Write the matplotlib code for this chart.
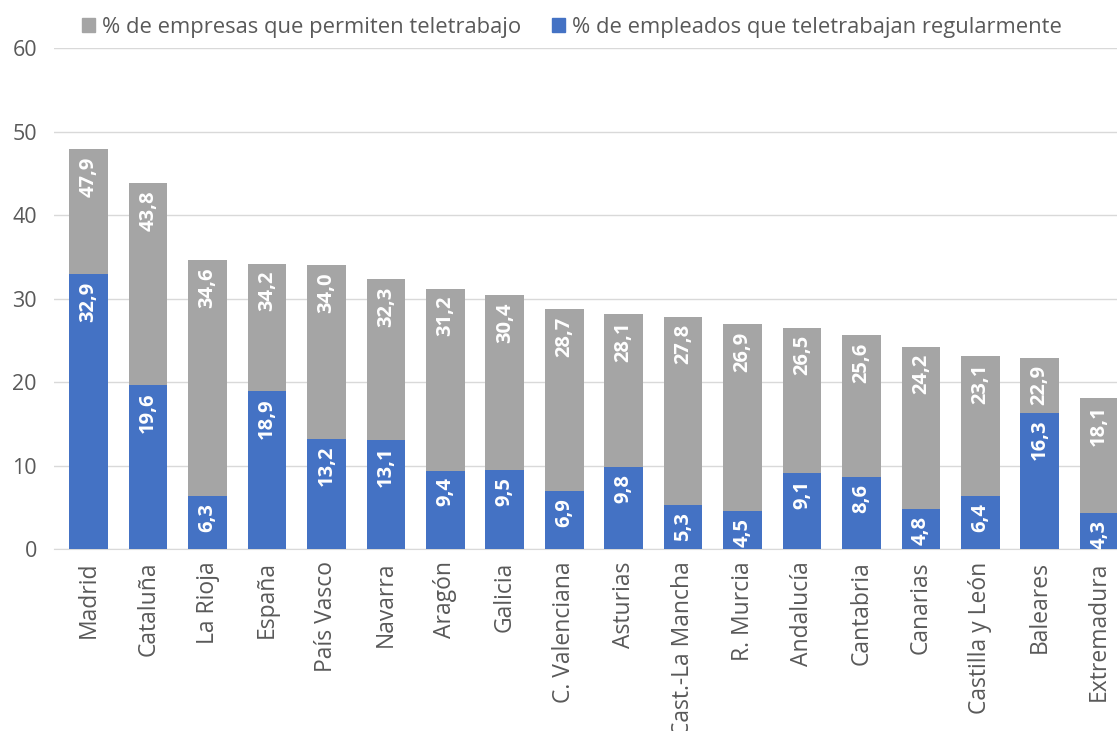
import numpy as np
import matplotlib
matplotlib.use("Agg")
import matplotlib.pyplot as plt
from matplotlib.patches import Patch

plt.rcParams['font.family'] = ['Open Sans', 'DejaVu Sans']

regiones = ["Madrid", "Cataluña", "La Rioja", "España", "País Vasco", "Navarra",
            "Aragón", "Galicia", "C. Valenciana", "Asturias", "Cast.-La Mancha",
            "R. Murcia", "Andalucía", "Cantabria", "Canarias", "Castilla y León",
            "Baleares", "Extremadura"]
empresas = [47.9, 43.8, 34.6, 34.2, 34.0, 32.3, 31.2, 30.4, 28.7, 28.1, 27.8,
            26.9, 26.5, 25.6, 24.2, 23.1, 22.9, 18.1]
empleados = [32.9, 19.6, 6.3, 18.9, 13.2, 13.1, 9.4, 9.5, 6.9, 9.8, 5.3,
             4.5, 9.1, 8.6, 4.8, 6.4, 16.3, 4.3]

GRIS = "#A5A5A5"
AZUL = "#4472C4"
TXT = "#595959"

fig = plt.figure(figsize=(11.17, 7.31), dpi=100)
ax = fig.add_axes([0.048, 0.249, 0.952, 0.685])

x = np.arange(len(regiones))
w = 0.65
b1 = ax.bar(x, empresas, w, color=GRIS, zorder=2)
b2 = ax.bar(x, empleados, w, color=AZUL, zorder=3)

def etiquetas(bars, vals):
    for r, v in zip(bars, vals):
        ax.annotate(f"{v:.1f}".replace(".", ","),
                    (r.get_x() + r.get_width() / 2, v),
                    xytext=(0, -5), textcoords="offset points",
                    ha="center", va="top", rotation=90,
                    color="white", fontsize=14.5, fontweight="bold", zorder=4)

etiquetas(b1, empresas)
etiquetas(b2, empleados)

ax.set_ylim(0, 60)
ax.set_xlim(-0.59, 17.3)
ax.set_yticks(range(0, 61, 10))
ax.grid(axis="y", color="#D9D9D9", linewidth=1, zorder=0)
for s in ["top", "right", "left"]:
    ax.spines[s].set_visible(False)
ax.spines["bottom"].set_color("#D9D9D9")
ax.tick_params(axis="both", length=0, colors=TXT, labelsize=15.5)
ax.tick_params(axis="y", pad=12)
ax.tick_params(axis="x", pad=9, labelsize=16.5)
ax.set_xticks(x)
ax.set_xticklabels(regiones, rotation=90)

handles = [Patch(color=GRIS), Patch(color=AZUL)]
fig.legend(handles, ["% de empresas que permiten teletrabajo",
                     "% de empleados que teletrabajan regularmente"],
           loc="center", bbox_to_anchor=(0.512, 0.963), ncol=2, frameon=False,
           fontsize=15.8, labelcolor=TXT, handlelength=0.6, handleheight=0.6,
           handletextpad=0.3, columnspacing=1.4)

fig.savefig("out.png", dpi=100)
